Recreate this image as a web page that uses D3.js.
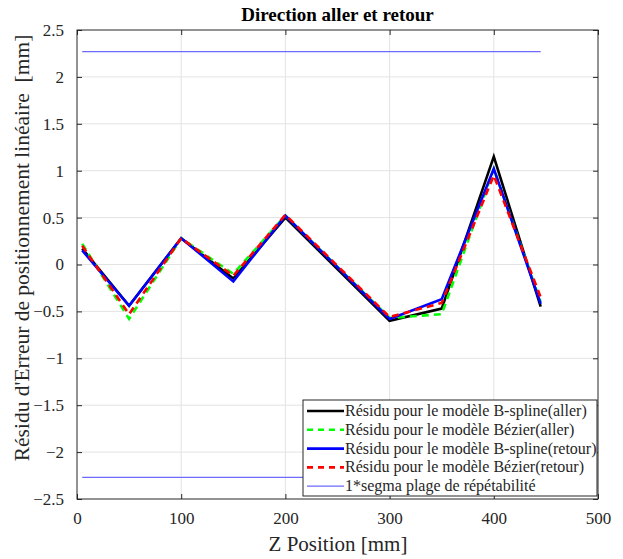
<!DOCTYPE html>
<html>
<head>
<meta charset="utf-8">
<script src="https://cdn.jsdelivr.net/npm/d3@7"></script>
<style>
  body { margin: 0; background: #fff; }
  svg { display: block; }
  svg text { font-family: "Liberation Serif", "Times New Roman", serif; }
</style>
</head>
<body>
<svg id="chart" width="623" height="559"></svg>
<script>
// Measurement positions along Z (mm)
const positions = [5, 50, 100, 150, 200, 300, 350, 400, 445];

// Residuals (mm) for each model and direction
const bsplineAller  = [0.17, -0.44, 0.28, -0.15, 0.50, -0.60, -0.47, 1.15, -0.45];
const bezierAller   = [0.22, -0.58, 0.28, -0.10, 0.52, -0.57, -0.53, 1.02, -0.40];
const bsplineRetour = [0.15, -0.44, 0.28, -0.18, 0.52, -0.58, -0.37, 1.02, -0.42];
const bezierRetour  = [0.20, -0.53, 0.28, -0.12, 0.53, -0.56, -0.41, 0.95, -0.35];

// Repeatability band (1 sigma)
const sigmaLevel = 2.27;
const sigmaRange = [5, 445];

const xTicks = [0, 100, 200, 300, 400, 500];
const yTicks = [-2.5, -2, -1.5, -1, -0.5, 0, 0.5, 1, 1.5, 2, 2.5];

const legendLabels = [
  "Résidu pour le modèle B-spline(aller)",
  "Résidu pour le modèle Bézier(aller)",
  "Résidu pour le modèle B-spline(retour)",
  "Résidu pour le modèle Bézier(retour)",
  "1*segma plage de répétabilité"
];

const series = [
  { values: bsplineAller,  color: "#000000", dash: null },
  { values: bezierAller,   color: "#00ff00", dash: "7,5" },
  { values: bsplineRetour, color: "#0000ff", dash: null },
  { values: bezierRetour,  color: "#ff0000", dash: "7,5" }
];

const svg = d3.select("#chart");
const m = { left: 77, right: 598, top: 30, bottom: 499 };
const axisColor = "#262626";

const x = d3.scaleLinear().domain([0, 500]).range([m.left, m.right]);
const y = d3.scaleLinear().domain([-2.5, 2.5]).range([m.bottom, m.top]);

// grid
const grid = svg.append("g").attr("stroke", "#e3e3e3").attr("stroke-width", 1);
xTicks.slice(1, -1).forEach(t => grid.append("line")
  .attr("x1", x(t)).attr("x2", x(t)).attr("y1", m.top).attr("y2", m.bottom));
yTicks.slice(1, -1).forEach(t => grid.append("line")
  .attr("x1", m.left).attr("x2", m.right).attr("y1", y(t)).attr("y2", y(t)));

// axes with inward ticks on all four sides
const xAxis = d3.axisBottom(x).tickValues(xTicks).tickSizeInner(-5).tickSizeOuter(0).tickPadding(13);
const yAxis = d3.axisLeft(y).tickValues(yTicks).tickSizeInner(-5).tickSizeOuter(0).tickPadding(13)
  .tickFormat(d => d3.format("")(d));
const xTop = d3.axisTop(x).tickValues(xTicks).tickSizeInner(-5).tickSizeOuter(0).tickFormat("");
const yRight = d3.axisRight(y).tickValues(yTicks).tickSizeInner(-5).tickSizeOuter(0).tickFormat("");

function styleAxis(g) {
  g.attr("font-family", null);
  g.select(".domain").remove();
  g.selectAll("line").attr("stroke", axisColor);
  g.selectAll("text").attr("font-size", 17).attr("fill", axisColor);
}
svg.append("g").attr("transform", `translate(0,${m.bottom})`).call(xAxis).call(styleAxis);
svg.append("g").attr("transform", `translate(${m.left},0)`).call(yAxis).call(styleAxis);
svg.append("g").attr("transform", `translate(0,${m.top})`).call(xTop).call(styleAxis);
svg.append("g").attr("transform", `translate(${m.right},0)`).call(yRight).call(styleAxis);

// repeatability lines
const sigmaLine = d3.line().x(d => x(d[0])).y(d => y(d[1]));
[sigmaLevel, -sigmaLevel].forEach(v => {
  svg.append("path")
    .datum(sigmaRange.map(p => [p, v]))
    .attr("d", sigmaLine)
    .attr("fill", "none").attr("stroke", "#6b6bff").attr("stroke-width", 1.3);
});

// residual curves
const line = d3.line().x((d, i) => x(positions[i])).y(d => y(d));
series.forEach(s => {
  const p = svg.append("path").datum(s.values).attr("d", line)
    .attr("fill", "none").attr("stroke", s.color).attr("stroke-width", 2.6)
    .attr("stroke-linejoin", "miter");
  if (s.dash) p.attr("stroke-dasharray", s.dash);
});

// plot frame
svg.append("rect").attr("x", m.left).attr("y", m.top)
  .attr("width", m.right - m.left).attr("height", m.bottom - m.top)
  .attr("fill", "none").attr("stroke", axisColor).attr("stroke-width", 1);

// title and axis labels
svg.append("text").attr("x", (m.left + m.right) / 2).attr("y", 21)
  .attr("text-anchor", "middle").attr("font-weight", "bold").attr("font-size", 19)
  .attr("fill", "#000").text("Direction aller et retour");
svg.append("text").attr("x", 338).attr("y", 551)
  .attr("text-anchor", "middle").attr("font-size", 21).attr("fill", axisColor)
  .text("Z Position [mm]");
svg.append("text")
  .attr("transform", `translate(29,248) rotate(-90)`)
  .attr("text-anchor", "middle").attr("font-size", 21.5).attr("fill", axisColor)
  .text("Résidu d'Erreur de positionnement linéaire\u00a0\u00a0[mm]");

// legend
const lg = { x: 303, y: 400, w: 294, h: 96 };
const legend = svg.append("g");
legend.append("rect").attr("x", lg.x).attr("y", lg.y).attr("width", lg.w).attr("height", lg.h)
  .attr("fill", "#fff").attr("stroke", axisColor).attr("stroke-width", 1);
const legendStyles = series.map(s => ({ color: s.color, width: 2.6, dash: s.dash ? "6,5" : null }))
  .concat([{ color: "#6b6bff", width: 1.3, dash: null }]);
legendLabels.forEach((lab, i) => {
  const yy = lg.y + 11 + i * 18.8;
  const st = legendStyles[i];
  const l = legend.append("line").attr("x1", lg.x + 4).attr("x2", lg.x + 41)
    .attr("y1", yy).attr("y2", yy).attr("stroke", st.color).attr("stroke-width", st.width);
  if (st.dash) l.attr("stroke-dasharray", st.dash);
  legend.append("text").attr("x", lg.x + 42).attr("y", yy + 5)
    .attr("font-size", 16).attr("fill", axisColor).text(lab);
});
</script>
</body>
</html>
